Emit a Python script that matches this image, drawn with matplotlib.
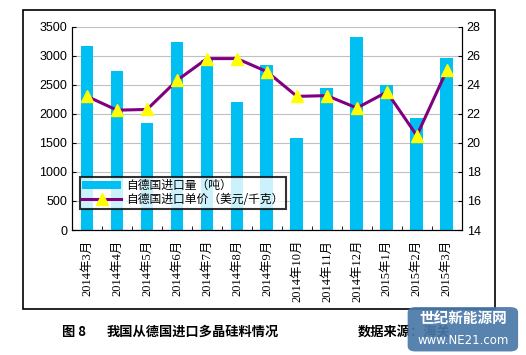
import matplotlib.pyplot as plt
from matplotlib.patches import Rectangle, FancyBboxPatch
import numpy as np

months = ['2014年3月', '2014年4月', '2014年5月', '2014年6月', '2014年7月',
          '2014年8月', '2014年9月', '2014年10月', '2014年11月', '2014年12月',
          '2015年1月', '2015年2月', '2015年3月']
volume = [3160, 2730, 1850, 3230, 2920, 2200, 2840, 1590, 2450, 3320, 2490, 1930, 2960]
price = [23.2, 22.25, 22.3, 24.3, 25.8, 25.8, 24.9, 23.2, 23.25, 22.4, 23.5, 20.5, 25.0]

cjk = ['Noto Sans CJK SC', 'DejaVu Sans']
serif_cjk = ['Liberation Serif', 'Noto Sans CJK SC']

fig = plt.figure(figsize=(5.26, 3.55), dpi=100)
fig.patch.set_facecolor('white')

# outer frame around chart
fig.patches.append(Rectangle((0.0437, 0.130), 0.897, 0.842, transform=fig.transFigure,
                             fill=False, edgecolor='black', linewidth=1.2))

ax = fig.add_axes([0.137, 0.352, 0.741, 0.573])
x = np.arange(len(months))
bars = ax.bar(x, volume, width=0.43, color='#00BFF3', label='自德国进口量（吨）', zorder=2)
ax.set_ylim(0, 3500)
ax.set_yticks(range(0, 3501, 500))
ax.set_xlim(-0.5, len(months) - 0.5)
ax.yaxis.grid(True, color='#c0c0c0', linewidth=0.8, zorder=0)
ax.set_axisbelow(True)
ax.set_xticks(x)
ax.set_xticklabels(months, rotation=90, family=serif_cjk, fontsize=9)
ax.set_xticks(np.arange(-0.5, len(months), 1), minor=True)
ax.tick_params(axis='x', which='major', length=0, pad=7)
ax.tick_params(axis='x', which='minor', direction='in', length=3)
ax.tick_params(axis='y', direction='in', length=3, labelsize=9)
for lab in ax.get_yticklabels():
    lab.set_family('Liberation Sans')
ax.spines['top'].set_visible(False)

ax2 = ax.twinx()
line, = ax2.plot(x, price, color='#800080', linewidth=2.2, marker='^', markersize=9,
                 markerfacecolor='#FFFF00', markeredgecolor='#FFFF00',
                 label='自德国进口单价（美元/千克）', zorder=3)
ax2.set_ylim(14, 28)
ax2.set_yticks(range(14, 29, 2))
ax2.tick_params(axis='y', direction='in', length=3, labelsize=9)
for lab in ax2.get_yticklabels():
    lab.set_family('Liberation Sans')
ax2.spines['top'].set_visible(False)

leg = ax2.legend([bars, line], ['自德国进口量（吨）', '自德国进口单价（美元/千克）'],
                 loc='lower left', bbox_to_anchor=(0.02, 0.105), prop={'family': cjk, 'size': 8.5},
                 frameon=True, fancybox=False, borderpad=0.2, labelspacing=0.1,
                 handlelength=3.3, handletextpad=0.4, borderaxespad=0)
leg.get_frame().set_edgecolor('black')
leg.get_frame().set_linewidth(1.5)

fig.text(0.118, 0.065, '图 8', family=cjk, fontsize=9.5, weight='bold', va='center')
fig.text(0.203, 0.065, '我国从德国进口多晶硅料情况', family=cjk, fontsize=9.5, weight='bold', va='center')
fig.text(0.68, 0.065, '数据来源：海关', family=cjk, fontsize=9.5, weight='bold', va='center')

# watermark box
fig.patches.append(FancyBboxPatch((0.775, 0.01), 0.21, 0.125, transform=fig.transFigure,
                                  boxstyle='round,pad=0.0,rounding_size=0.015',
                                  facecolor='#4a78a8', edgecolor='none', alpha=0.92, zorder=5))
fig.text(0.88, 0.103, '世纪新能源网', family=cjk, fontsize=10.5, weight='bold', color='white',
         ha='center', va='center', zorder=6)
fig.text(0.88, 0.042, 'www.NE21.com', family='DejaVu Sans', fontsize=8.5, color='white',
         ha='center', va='center', zorder=6)

fig.savefig('out.png', dpi=100)
